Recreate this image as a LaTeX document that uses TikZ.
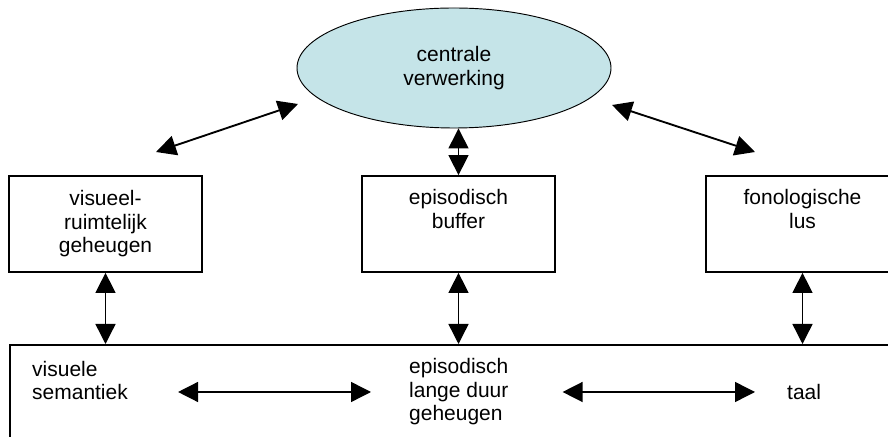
\documentclass[tikz,border=0pt]{standalone}
\usepackage{fontspec}
\setmainfont{Liberation Sans}
\usetikzlibrary{shapes.geometric,arrows.meta}
\definecolor{lichtblauw}{RGB}{197,228,232}

\begin{document}
\begin{tikzpicture}[
    font=\fontsize{17.9}{20}\selectfont,
    box/.style={draw, line width=1.5pt, minimum width=5.79cm, minimum height=2.88cm, align=center, inner sep=0},
    txt/.style={anchor=west, align=left, inner sep=0},
    dbl/.style={{Triangle[length=0.6cm,width=0.6cm]}-{Triangle[length=0.6cm,width=0.6cm]}, line width=1.2pt}
  ]
  \clip (0, 0) rectangle (26.64, 13.11);

  % Central executive
  \node[ellipse, draw, line width=0.8pt, fill=lichtblauw, minimum width=9.42cm, minimum height=3.6cm, inner sep=0, align=center]
    (cv) at (13.62, 11.07) {centrale\\verwerking};

  % Slave systems
  \node[box] (vrg) at (3.165, 6.39) {visueel-\\ruimtelijk\\geheugen};
  \node[box] (eb) at (13.755, 6.39) {episodisch\\buffer\\\strut};
  \node[box] (fl) at (24.075, 6.39) {fonologische\\lus\\\strut};

  % Long-term memory
  \node[draw, line width=1.5pt, anchor=north west, minimum width=27cm, minimum height=3.5cm, inner sep=0]
    (ldg) at (0.27, 2.79) {};
  \node[txt] (vs) at (0.96, 1.695) {visuele\\semantiek};
  \node[txt] (ep) at (12.27, 1.35) {episodisch\\lange duur\\geheugen};
  \node[txt] (taal) at (23.61, 1.35) {taal};

  % Diagonal links to the central executive
  \coordinate (vl) at (4.68, 8.55);
  \coordinate (vr) at (8.94, 9.99);
  \coordinate (fl1) at (18.36, 9.96);
  \coordinate (fl2) at (22.65, 8.55);
  \draw[dbl, line width=1.6pt] (vl) -- (vr);
  \draw[dbl, line width=1.6pt] (fl1) -- (fl2);
  \draw[dbl] (eb.north |- cv.south) -- (eb.north);

  % Vertical links to long-term memory
  \draw[dbl] (vrg.south) -- (vrg.south |- ldg.north);
  \draw[dbl] (eb.south) -- (eb.south |- ldg.north);
  \draw[dbl] (fl.south) -- (fl.south |- ldg.north);

  % Links inside long-term memory
  \draw[dbl] ([xshift=1.5cm]vs.east |- ep.west) -- ([xshift=-1.14cm]ep.west);
  \draw[dbl] ([xshift=1.62cm]ep.east) -- ([xshift=-0.96cm]taal.west |- ep.east);
\end{tikzpicture}
\end{document}
